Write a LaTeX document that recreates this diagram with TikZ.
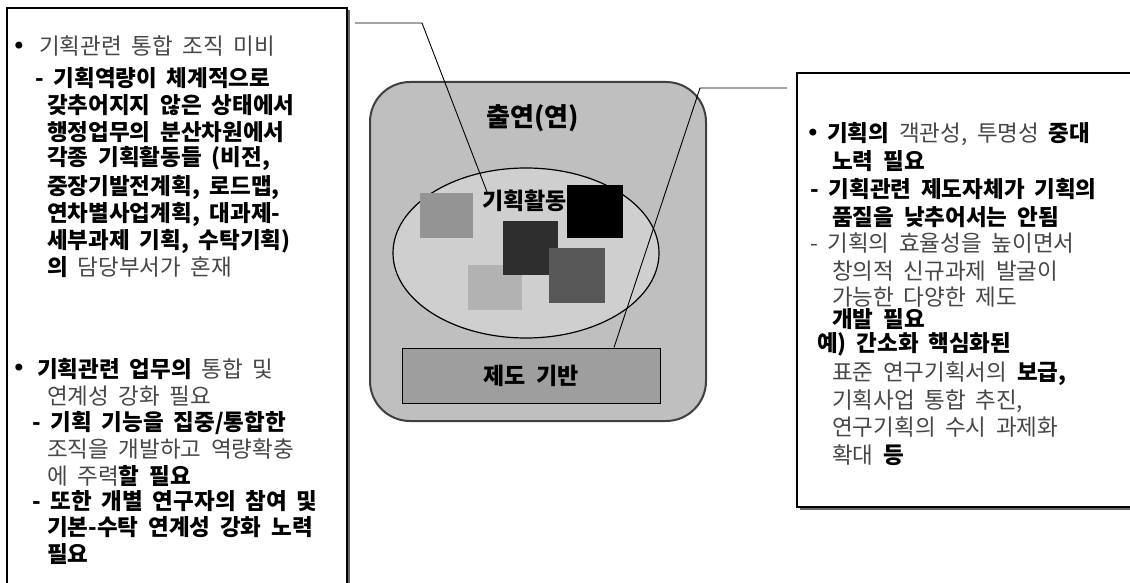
\documentclass[tikz,border=0pt]{standalone}
\usepackage{fontspec}
\setmainfont{Noto Sans CJK KR}[WordSpace=1.9]
\newfontfamily\bulfont{DejaVu Sans}
\usetikzlibrary{shapes.geometric}
\newcommand{\lite}[1]{{\mdseries\color{black!72}#1}}
\tikzset{
  txt/.style={anchor=base west, inner sep=0pt, font=\bfseries\fontsize{22.5}{26}\selectfont},
  bul/.style={anchor=center, inner sep=0pt, font=\bulfont\fontsize{24}{26}\selectfont},
  sq/.style={draw=none, inner sep=0pt},
  panel/.style={draw=black, line width=1.1pt, fill=white},
  conn/.style={draw=black, line width=0.9pt}
}
\begin{document}
\begin{tikzpicture}[x=1pt,y=-1pt]
\useasboundingbox (0,0) rectangle (1130,583);
\clip (0,0) rectangle (1130,583);
\fill[white] (0,0) rectangle (1130,583);

% left panel
\fill[black!60] (9.5,10.5) rectangle (349.5,600);
\draw[panel] (7,8) rectangle (347,597);
% right panel
\fill[black!60] (799.5,75.5) rectangle (1140,509.5);
\draw[panel] (797,73) rectangle (1137,507);

% central organisation block
\node[draw=black!75, line width=2pt, fill=black!25, rounded corners=40pt,
      minimum width=336pt, minimum height=339pt, inner sep=0pt] (org) at (538,251.5) {};
\node[font=\bfseries\fontsize{26}{30}\selectfont, inner sep=0pt] (title) at (533,118) {출연(연)};
\node[ellipse, draw=black, line width=1.2pt, fill=black!19,
      minimum width=266pt, minimum height=170pt, inner sep=0pt] (ell) at (526,253) {};
\node[sq, fill=black!30, minimum width=54pt, minimum height=45pt] (s5) at (495,287.5) {};
\node[sq, fill=black!42, minimum width=53pt, minimum height=45pt] (s1) at (446.5,215.5) {};
\node[anchor=west, inner sep=0pt, font=\bfseries\fontsize{23}{26}\selectfont] (act) at (482,201) {기획활동};
\node[sq, fill=black!82, minimum width=55pt, minimum height=54pt] (s3) at (530.5,248) {};
\node[sq, fill=black!66, minimum width=56pt, minimum height=55pt] (s4) at (577,275.5) {};
\node[sq, fill=black, minimum width=56pt, minimum height=53pt] (s2) at (595,211.5) {};
\node[draw=black, line width=1pt, fill=black!38, minimum width=258pt, minimum height=55pt,
      inner sep=0pt, font=\bfseries\fontsize{23}{26}\selectfont] (base) at (531,375.5) {제도 기반};

% connectors
\coordinate (lA) at (355,23);
\coordinate (lB) at (422,23);
\draw[conn] (lA) -- (lB) -- ([xshift=5pt,yshift=-2pt]act.north west);
\coordinate (rA) at (787,88);
\coordinate (rB) at (700,88);
\draw[conn] (rA) -- (rB) -- ([xshift=83pt]base.north);

% left text
\node[bul] (b1) at (19,48) {•};
\node[txt] (l1) at (39,55) {\lite{기획관련 통합 조직 미비}};
\node[txt] (l2) at (35,87) {- 기획역량이 체계적으로};
\node[txt] (l3) at (47,114) {갖추어지지 않은 상태에서};
\node[txt] (l4) at (47,141) {행정업무의 분산차원에서};
\node[txt] (l5) at (47,166) {각종 기획활동들 (비전,};
\node[txt] (l6) at (47,194) {중장기발전계획, 로드맵,};
\node[txt] (l7) at (47,221) {연차별사업계획, 대과제-};
\node[txt] (l8) at (47,248) {세부과제 기획, 수탁기획)};
\node[txt] (l9) at (47,275) {의 \lite{담당부서가 혼재}};
\node[bul] (b2) at (19,370) {•};
\node[txt] (l10) at (37,377) {기획관련 업무의 \lite{통합 및}};
\node[txt] (l11) at (47,404) {\lite{연계성 강화 필요}};
\node[txt] (l12) at (32,430) {- 기획 기능을 집중/통합한};
\node[txt] (l13) at (47,457) {\lite{조직을 개발하고 역량확충}};
\node[txt] (l14) at (47,484) {\lite{에 주력}할 필요};
\node[txt] (l15) at (32,509) {- 또한 개별 연구자의 참여 및};
\node[txt] (l16) at (47,535) {기본-수탁 연계성 강화 노력};
\node[txt] (l17) at (47,562) {필요};

% right text
\node[bul] (b3) at (813,135) {•};
\node[txt] (r1) at (827,142) {기획의 \lite{객관성, 투명성} 중대};
\node[txt] (r2) at (832,170) {노력 필요};
\node[txt] (r3) at (810,197) {- 기획관련 제도자체가 기획의};
\node[txt] (r4) at (832,225) {품질을 낮추어서는 안됨};
\node[txt] (r5) at (810,251) {\lite{- 기획의 효율성을 높이면서}};
\node[txt] (r6) at (832,279) {\lite{창의적 신규과제 발굴이}};
\node[txt] (r7) at (832,305) {\lite{가능한 다양한 제도}};
\node[txt] (r8) at (832,327) {개발 필요};
\node[txt] (r9) at (817,351) {예) 간소화 핵심화된};
\node[txt] (r10) at (832,380) {\lite{표준 연구기획서의} 보급,};
\node[txt] (r11) at (832,408) {\lite{기획사업 통합 추진,}};
\node[txt] (r12) at (832,435) {\lite{연구기획의 수시 과제화}};
\node[txt] (r13) at (832,463) {\lite{확대} 등};
\end{tikzpicture}
\end{document}
